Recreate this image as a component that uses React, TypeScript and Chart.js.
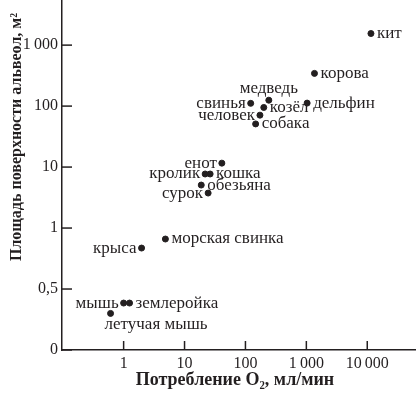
import React, { useEffect, useRef } from "react";
import { Chart, registerables } from "chart.js";

Chart.register(...registerables);

// ---- data ----
const animals = [
  "кит", "корова", "дельфин", "медведь", "свинья", "козёл", "человек", "собака",
  "енот", "кролик", "кошка", "обезьяна", "сурок", "морская свинка", "крыса",
  "мышь", "землеройка", "летучая мышь",
];
// O2 consumption, ml/min
const oxygen = [11500, 1360, 1030, 242, 122, 200, 173, 147, 41, 21.8, 26.3, 18.8, 24.4, 4.85, 1.97, 1.0, 1.25, 0.61];
// alveolar surface area, m2
const area = [1550, 344, 112, 125, 111, 95, 71, 51, 11.6, 7.7, 7.7, 5.07, 3.75, 0.91, 0.836, 0.385, 0.385, 0.3];
// label placement relative to the point
const labelSide = [
  "right", "right", "right", "above", "left", "right", "left", "right",
  "left", "left", "right", "right", "left", "right", "left",
  "left", "right", "below",
];
const xTicks = [1, 10, 100, 1000, 10000];
const xTickLabels = ["1", "10", "100", "1\u2009000", "10\u2009000"];
const yTicks = [0, 0.5, 1, 10, 100, 1000];
const yTickLabels = ["0", "0,5", "1", "10", "100", "1\u2009000"];
const xTitle = "Потребление O\u2082, мл/мин";
const yTitle = "Площадь поверхности альвеол, м\u00B2";

// axis: linear 0..1 below 1, logarithmic above 1
const yAxisValue = (v: number) => (v < 1 ? 2 * (v - 1) : Math.log10(v));

const INK = "#231f20";
const SERIF = "'Liberation Serif', 'Times New Roman', serif";
const SHIFT = 4; // canvas is placed SHIFT px above the page top

const decorPlugin = {
  id: "decor",
  afterDatasetsDraw(chart: any) {
    const ctx: CanvasRenderingContext2D = chart.ctx;
    const xs = chart.scales.x;
    const ys = chart.scales.y;
    const area = chart.chartArea;
    ctx.save();
    ctx.strokeStyle = INK;
    ctx.lineWidth = 1.5;
    // inner tick marks
    xTicks.forEach((v) => {
      const px = xs.getPixelForValue(v);
      ctx.beginPath();
      ctx.moveTo(px, area.bottom);
      ctx.lineTo(px, area.bottom - 9);
      ctx.stroke();
    });
    yTicks.forEach((v) => {
      const py = ys.getPixelForValue(yAxisValue(v));
      ctx.beginPath();
      ctx.moveTo(area.left, py);
      ctx.lineTo(area.left + 10, py);
      ctx.stroke();
    });
    // point labels
    const meta = chart.getDatasetMeta(0);
    ctx.fillStyle = INK;
    ctx.font = `17px ${SERIF}`;
    ctx.textBaseline = "middle";
    meta.data.forEach((el: any, i: number) => {
      const side = labelSide[i];
      const x = el.x;
      const y = el.y;
      if (side === "right") {
        ctx.textAlign = "left";
        ctx.fillText(animals[i], x + 6, y);
      } else if (side === "left") {
        ctx.textAlign = "right";
        ctx.fillText(animals[i], x - 5, y);
      } else if (side === "above") {
        ctx.textAlign = "center";
        ctx.fillText(animals[i], x, y - 12);
      } else {
        ctx.textAlign = "left";
        ctx.fillText(animals[i], x - 6, y + 11);
      }
    });
    // axis titles
    ctx.font = `bold 18px ${SERIF}`;
    ctx.textAlign = "center";
    ctx.fillText(xTitle, 235, 380 + SHIFT);
    ctx.font = `bold 16px ${SERIF}`;
    ctx.translate(17, 137 + SHIFT);
    ctx.rotate(-Math.PI / 2);
    ctx.fillText(yTitle, 0, 0);
    ctx.restore();
  },
};

export default function App() {
  const ref = useRef<HTMLCanvasElement | null>(null);
  useEffect(() => {
    if (!ref.current) return;
    const points = oxygen.map((o, i) => ({ x: o, y: yAxisValue(area[i]) }));
    const chart = new Chart(ref.current, {
      type: "scatter",
      data: {
        datasets: [
          {
            data: points,
            backgroundColor: INK,
            borderColor: INK,
            pointRadius: 3,
            pointHoverRadius: 3,
          },
        ],
      },
      options: {
        animation: false,
        responsive: false,
        layout: { padding: { top: 0, right: 2, left: 0, bottom: 0 } },
        plugins: { legend: { display: false }, tooltip: { enabled: false } },
        scales: {
          x: {
            type: "logarithmic",
            min: 0.0973,
            max: 60800,
            afterBuildTicks: (s: any) => {
              s.ticks = xTicks.map((v) => ({ value: v }));
            },
            afterFit: (s: any) => {
              s.height = 58;
              s.paddingLeft = 0;
              s.paddingRight = 0;
            },
            ticks: {
              autoSkip: false,
              maxRotation: 0,
              padding: 4,
              color: INK,
              font: { family: SERIF, size: 16 },
              callback: (v: any) => {
                const k = xTicks.indexOf(Number(v));
                return k >= 0 ? xTickLabels[k] : "";
              },
            },
            grid: { display: true, drawOnChartArea: false, drawTicks: false },
            border: { display: true, color: INK, width: 1.5 },
          },
          y: {
            type: "linear",
            min: -2,
            max: 3.74,
            afterBuildTicks: (s: any) => {
              s.ticks = yTicks.map((v) => ({ value: yAxisValue(v) }));
            },
            afterFit: (s: any) => {
              s.width = 62;
              s.paddingTop = 0;
              s.paddingBottom = 0;
            },
            ticks: {
              autoSkip: false,
              padding: 4,
              color: INK,
              font: { family: SERIF, size: 16 },
              callback: (_v: any, idx: number) => yTickLabels[idx],
            },
            grid: { display: true, drawOnChartArea: false, drawTicks: false },
            border: { display: true, color: INK, width: 1.5 },
          },
        },
      },
      plugins: [decorPlugin],
    });
    return () => chart.destroy();
  }, []);
  return (
    <div style={{ position: "fixed", left: 0, top: -SHIFT, width: 419, height: 408 + SHIFT, background: "#fff" }}>
      <canvas ref={ref} width={419} height={408 + SHIFT} style={{ width: 419, height: 408 + SHIFT, display: "block" }} />
    </div>
  );
}
